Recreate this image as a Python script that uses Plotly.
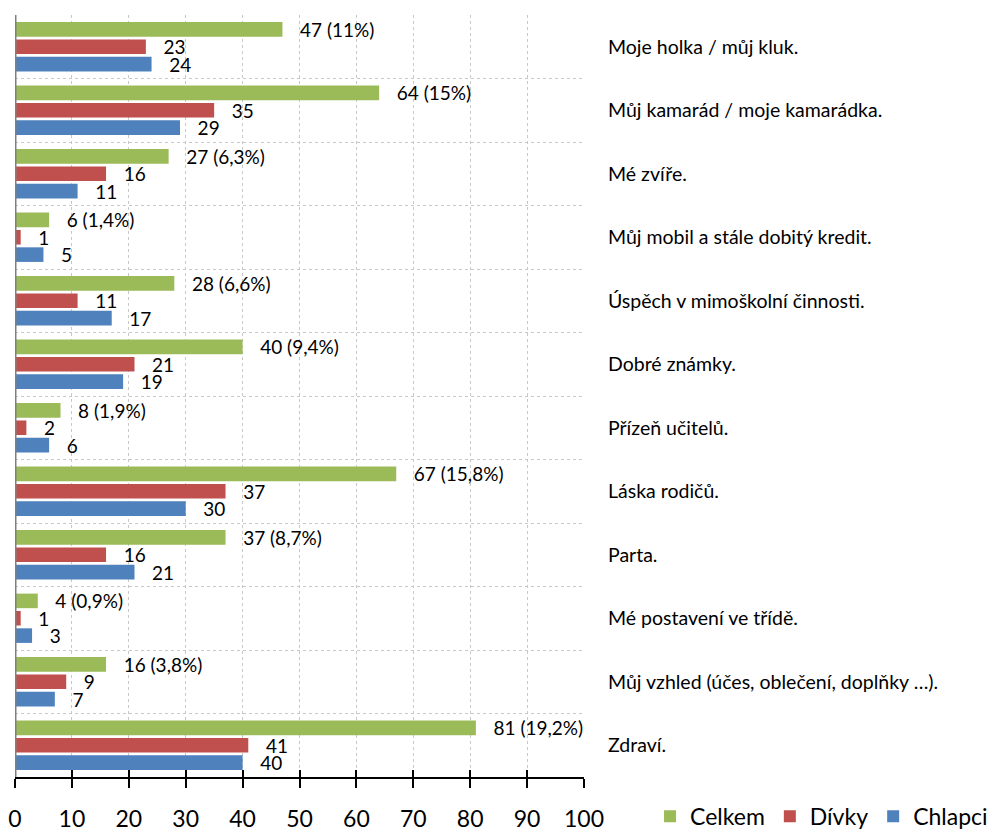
import plotly.graph_objects as go

categories = [
    "Moje holka / můj kluk.",
    "Můj kamarád / moje kamarádka.",
    "Mé zvíře.",
    "Můj mobil a stále dobitý kredit.",
    "Úspěch v mimoškolní činnosti.",
    "Dobré známky.",
    "Přízeň učitelů.",
    "Láska rodičů.",
    "Parta.",
    "Mé postavení ve třídě.",
    "Můj vzhled (účes, oblečení, doplňky …).",
    "Zdraví.",
]
celkem = [47, 64, 27, 6, 28, 40, 8, 67, 37, 4, 16, 81]
celkem_pct = ["11%", "15%", "6,3%", "1,4%", "6,6%", "9,4%", "1,9%", "15,8%", "8,7%", "0,9%", "3,8%", "19,2%"]
divky = [23, 35, 16, 1, 11, 21, 2, 37, 16, 1, 9, 41]
chlapci = [24, 29, 11, 5, 17, 19, 6, 30, 21, 3, 7, 40]
x_ticks = [0, 10, 20, 30, 40, 50, 60, 70, 80, 90, 100]

FONT = "Lato"
pad = "\u00a0\u00a0\u00a0"

fig = go.Figure()
series = [
    ("Chlapci", chlapci, [str(v) for v in chlapci], "#4F81BD"),
    ("Dívky", divky, [str(v) for v in divky], "#C0504D"),
    ("Celkem", celkem, [f"{v} ({p})" for v, p in zip(celkem, celkem_pct)], "#9BBB59"),
]
for name, vals, labels, color in series:
    fig.add_trace(go.Bar(
        name=name, y=categories, x=vals, orientation="h",
        marker=dict(color=color, line=dict(width=0)),
        text=[pad + t for t in labels], textposition="outside",
        textfont=dict(family=FONT, size=19, color="#000000"),
        cliponaxis=False, constraintext="none",
    ))

# helper trace hosting the inside half of the crossing tick marks
fig.add_trace(go.Scatter(x=[0, 100], y=[None, None], xaxis="x2", showlegend=False, hoverinfo="skip"))

fig.update_layout(
    width=997, height=832,
    margin=dict(l=15, r=413, t=15, b=55),
    paper_bgcolor="white", plot_bgcolor="white",
    barmode="group", bargap=0.18, bargroupgap=0.16,
    font=dict(family=FONT, color="#000000"),
    showlegend=True,
    legend=dict(orientation="h", traceorder="reversed",
                xref="container", yref="container",
                x=0.652, xanchor="left", y=0.019, yanchor="middle",
                font=dict(family=FONT, size=23), itemwidth=30,
                tracegroupgap=0, bgcolor="rgba(0,0,0,0)"),
    xaxis=dict(range=[0, 100], tickvals=x_ticks, ticktext=[str(v) for v in x_ticks],
               showgrid=True, gridcolor="#C8C8C8", griddash="dot", gridwidth=1,
               showline=True, linecolor="#000000", linewidth=2,
               ticks="outside", ticklen=9, tickwidth=2, tickcolor="#000000",
               tickfont=dict(family=FONT, size=23), ticklabelstandoff=11,
               zeroline=False, automargin=False),
    xaxis2=dict(range=[0, 100], overlaying="x", side="bottom", anchor="y",
                tickvals=x_ticks, showticklabels=False, showgrid=False,
                ticks="inside", ticklen=7, tickwidth=2, tickcolor="#000000",
                showline=False, zeroline=False, automargin=False),
    yaxis=dict(categoryorder="array", categoryarray=categories[::-1],
               side="right", tickson="boundaries",
               showgrid=True, gridcolor="#C8C8C8", griddash="dot", gridwidth=1,
               showline=False, ticks="", ticklabelstandoff=23,
               tickfont=dict(family=FONT, size=19.5), automargin=False),
    shapes=[dict(type="line", xref="x", yref="paper", x0=0, x1=0, y0=0, y1=1,
                 line=dict(color="#808080", width=3))],
)

fig.write_html("out.html", config={"displayModeBar": False},
               post_script="document.body.style.margin='0';document.body.style.overflow='hidden';")
